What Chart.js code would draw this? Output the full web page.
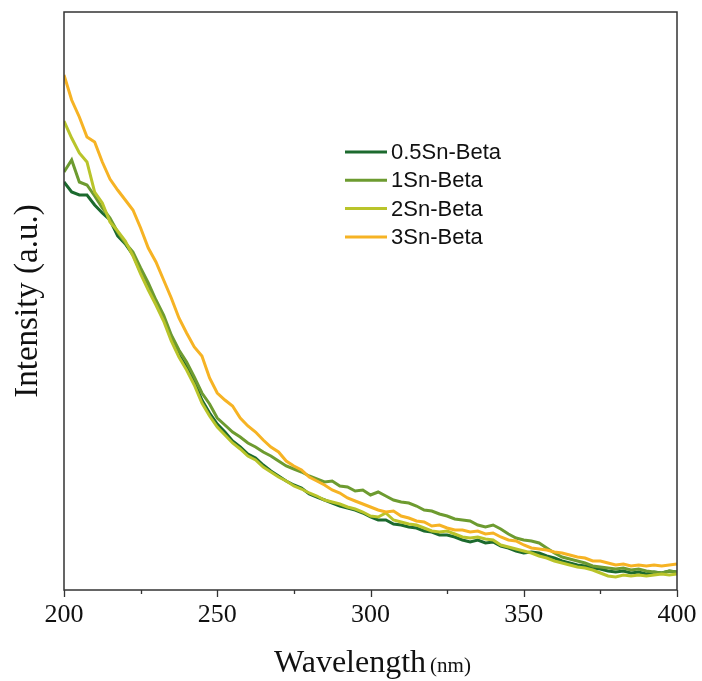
<!DOCTYPE html>
<html>
<head>
<meta charset="utf-8">
<script src="https://cdn.jsdelivr.net/npm/chart.js@4/dist/chart.umd.min.js"></script>
<style>
  html, body { margin: 0; padding: 0; background: #fff; }
  canvas { display: block; }
</style>
</head>
<body>
<canvas id="uvChart" width="702" height="681"></canvas>
<script>
// Wavelength (nm)
const wavelength = [
  200, 202.5, 205, 207.5, 210, 212.5, 215, 217.5, 220, 222.5,
  225, 227.5, 230, 232.5, 235, 237.5, 240, 242.5, 245, 247.5,
  250, 252.5, 255, 257.5, 260, 262.5, 265, 267.5, 270, 272.5,
  275, 277.5, 280, 282.5, 285, 287.5, 290, 292.5, 295, 297.5,
  300, 302.5, 305, 307.5, 310, 312.5, 315, 317.5, 320, 322.5,
  325, 327.5, 330, 332.5, 335, 337.5, 340, 342.5, 345, 347.5,
  350, 352.5, 355, 357.5, 360, 362.5, 365, 367.5, 370, 372.5,
  375, 377.5, 380, 382.5, 385, 387.5, 390, 392.5, 395, 397.5,
  400
];

// Intensity (a.u.)
const sn05 = [
  408, 398, 395, 395, 385, 377, 370, 354, 346, 335,
  318, 303, 287, 272, 252, 235, 223, 208, 190, 177,
  166, 158, 149, 143, 136, 132, 125, 119, 114, 109,
  105, 102, 96, 93, 90, 87, 84, 82, 80, 77,
  73, 70, 70, 66, 65, 63, 62, 59, 58, 55,
  55, 53, 50, 48, 50, 47, 48, 44, 42, 39,
  37, 38, 37, 34, 32, 29, 27, 25, 24, 22,
  21, 19, 18, 19, 17, 18, 16, 18, 17, 19,
  18
];
const sn1 = [
  418, 430, 408, 405, 394, 382, 372, 358, 347, 338,
  322, 307, 290, 275, 255, 240, 228, 213, 197, 186,
  172, 165, 158, 153, 147, 143, 138, 134, 129, 124,
  121, 118, 114, 111, 108, 109, 104, 103, 99, 100,
  95, 98, 94, 90, 88, 87, 84, 80, 79, 76,
  74, 71, 70, 69, 65, 63, 65, 61, 56, 52,
  50, 49, 47, 42, 37, 33, 31, 29, 27, 24,
  23, 22, 21, 22, 20, 21, 19, 18, 17, 19,
  18
];
const sn2 = [
  469, 452, 437, 428, 398, 387, 368, 359, 349, 334,
  316, 300, 285, 269, 249, 233, 220, 205, 187, 174,
  163, 155, 147, 141, 134, 130, 123, 118, 113, 109,
  104, 101, 97, 94, 90, 88, 86, 83, 81, 78,
  74, 73, 77, 70, 68, 66, 65, 62, 59, 58,
  59, 56, 53, 52, 53, 51, 50, 45, 43, 41,
  39, 37, 34, 32, 29, 27, 25, 23, 22, 20,
  17, 14, 13, 15, 14, 15, 14, 15, 16, 15,
  16
];
const sn3 = [
  515, 490, 473, 453, 448, 428, 411, 400, 390, 380,
  362, 342, 328, 310, 292, 272, 257, 243, 234, 212,
  197, 190, 184, 172, 164, 158, 150, 143, 138, 129,
  124, 120, 113, 109, 105, 100, 97, 92, 89, 86,
  83, 80, 78, 79, 74, 72, 69, 68, 64, 65,
  62, 60, 60, 58, 59, 56, 57, 53, 50, 49,
  45, 42, 41, 40, 38, 37, 35, 33, 32, 29,
  29, 27, 25, 26, 24, 25, 24, 25, 24, 25,
  26
];

const seriesNames = ['0.5Sn-Beta', '1Sn-Beta', '2Sn-Beta', '3Sn-Beta'];
const seriesColors = ['#1c6a2e', '#6d9b30', '#b9c42a', '#f6b324'];
const xTicks = [200, 250, 300, 350, 400];
const xMinorTicks = [225, 275, 325, 375];

function toPoints(values) {
    return values.map((v, i) => ({ x: wavelength[i], y: v }));
}

// frame, outward ticks, legend and the x title
const decorPlugin = {
    id: 'decor',
    afterDraw(chart) {
        const ctx = chart.ctx;
        const area = chart.chartArea;
        const xScale = chart.scales.x;

        ctx.save();
        ctx.strokeStyle = '#333';
        ctx.lineWidth = 1.5;
        ctx.strokeRect(area.left, area.top, area.right - area.left, area.bottom - area.top);

        ctx.lineWidth = 1.3;
        ctx.beginPath();
        xTicks.forEach(v => {
            const px = Math.round(xScale.getPixelForValue(v)) + 0.5;
            ctx.moveTo(px, area.bottom);
            ctx.lineTo(px, area.bottom + 7);
        });
        xMinorTicks.forEach(v => {
            const px = Math.round(xScale.getPixelForValue(v)) + 0.5;
            ctx.moveTo(px, area.bottom);
            ctx.lineTo(px, area.bottom + 4);
        });
        ctx.stroke();

        // legend
        ctx.font = '22px "Liberation Sans", Arial, sans-serif';
        ctx.textBaseline = 'middle';
        ctx.textAlign = 'left';
        seriesNames.forEach((name, i) => {
            const y = 152 + i * 28.3;
            ctx.strokeStyle = seriesColors[i];
            ctx.lineWidth = 3;
            ctx.beginPath();
            ctx.moveTo(345, y);
            ctx.lineTo(387, y);
            ctx.stroke();
            ctx.fillStyle = '#111';
            ctx.fillText(name, 391, y + 1);
        });

        // x title with the smaller unit
        const big = '32px "Liberation Serif", "Times New Roman", serif';
        const small = '21px "Liberation Serif", "Times New Roman", serif';
        ctx.textBaseline = 'alphabetic';
        ctx.font = big;
        const w1 = ctx.measureText('Wavelength').width;
        ctx.font = small;
        const w2 = ctx.measureText('(nm)').width;
        const gap = 4;
        const cx = (area.left + area.right) / 2 + 2;
        const start = cx - (w1 + gap + w2) / 2;
        ctx.fillStyle = '#111';
        ctx.font = big;
        ctx.fillText('Wavelength', start, 672);
        ctx.font = small;
        ctx.fillText('(nm)', start + w1 + gap, 672);
        ctx.restore();
    }
};

const datasets = [sn05, sn1, sn2, sn3].map((vals, i) => ({
    label: seriesNames[i],
    data: toPoints(vals),
    borderColor: seriesColors[i],
    backgroundColor: seriesColors[i],
    borderWidth: 3,
    pointRadius: 0,
    tension: 0,
    fill: false,
    order: 3 - i
}));

new Chart(document.getElementById('uvChart'), {
    type: 'line',
    data: { datasets: datasets },
    options: {
        responsive: false,
        animation: false,
        devicePixelRatio: 1,
        layout: { padding: { left: 0, right: 25, top: 12, bottom: 0 } },
        plugins: {
            legend: { display: false },
            tooltip: { enabled: false }
        },
        scales: {
            x: {
                type: 'linear',
                min: 200,
                max: 400,
                afterBuildTicks: scale => {
                    scale.ticks = xTicks.map(v => ({ value: v }));
                },
                ticks: {
                    color: '#111',
                    padding: 10,
                    maxRotation: 0,
                    font: { family: '"Liberation Serif", "Times New Roman", serif', size: 26 }
                },
                grid: { display: false, drawTicks: false },
                border: { display: false },
                afterFit: scale => {
                    scale.height = 91;
                    scale.paddingLeft = 0;
                    scale.paddingRight = 0;
                }
            },
            y: {
                min: 0,
                max: 578,
                ticks: { display: false },
                grid: { display: false, drawTicks: false },
                border: { display: false },
                title: {
                    display: true,
                    text: 'Intensity (a.u.)',
                    color: '#111',
                    padding: { top: 9, bottom: 0 },
                    font: { family: '"Liberation Serif", "Times New Roman", serif', size: 33, weight: 'normal' }
                },
                afterFit: scale => { scale.width = 64; }
            }
        }
    },
    plugins: [decorPlugin]
});
</script>
</body>
</html>
